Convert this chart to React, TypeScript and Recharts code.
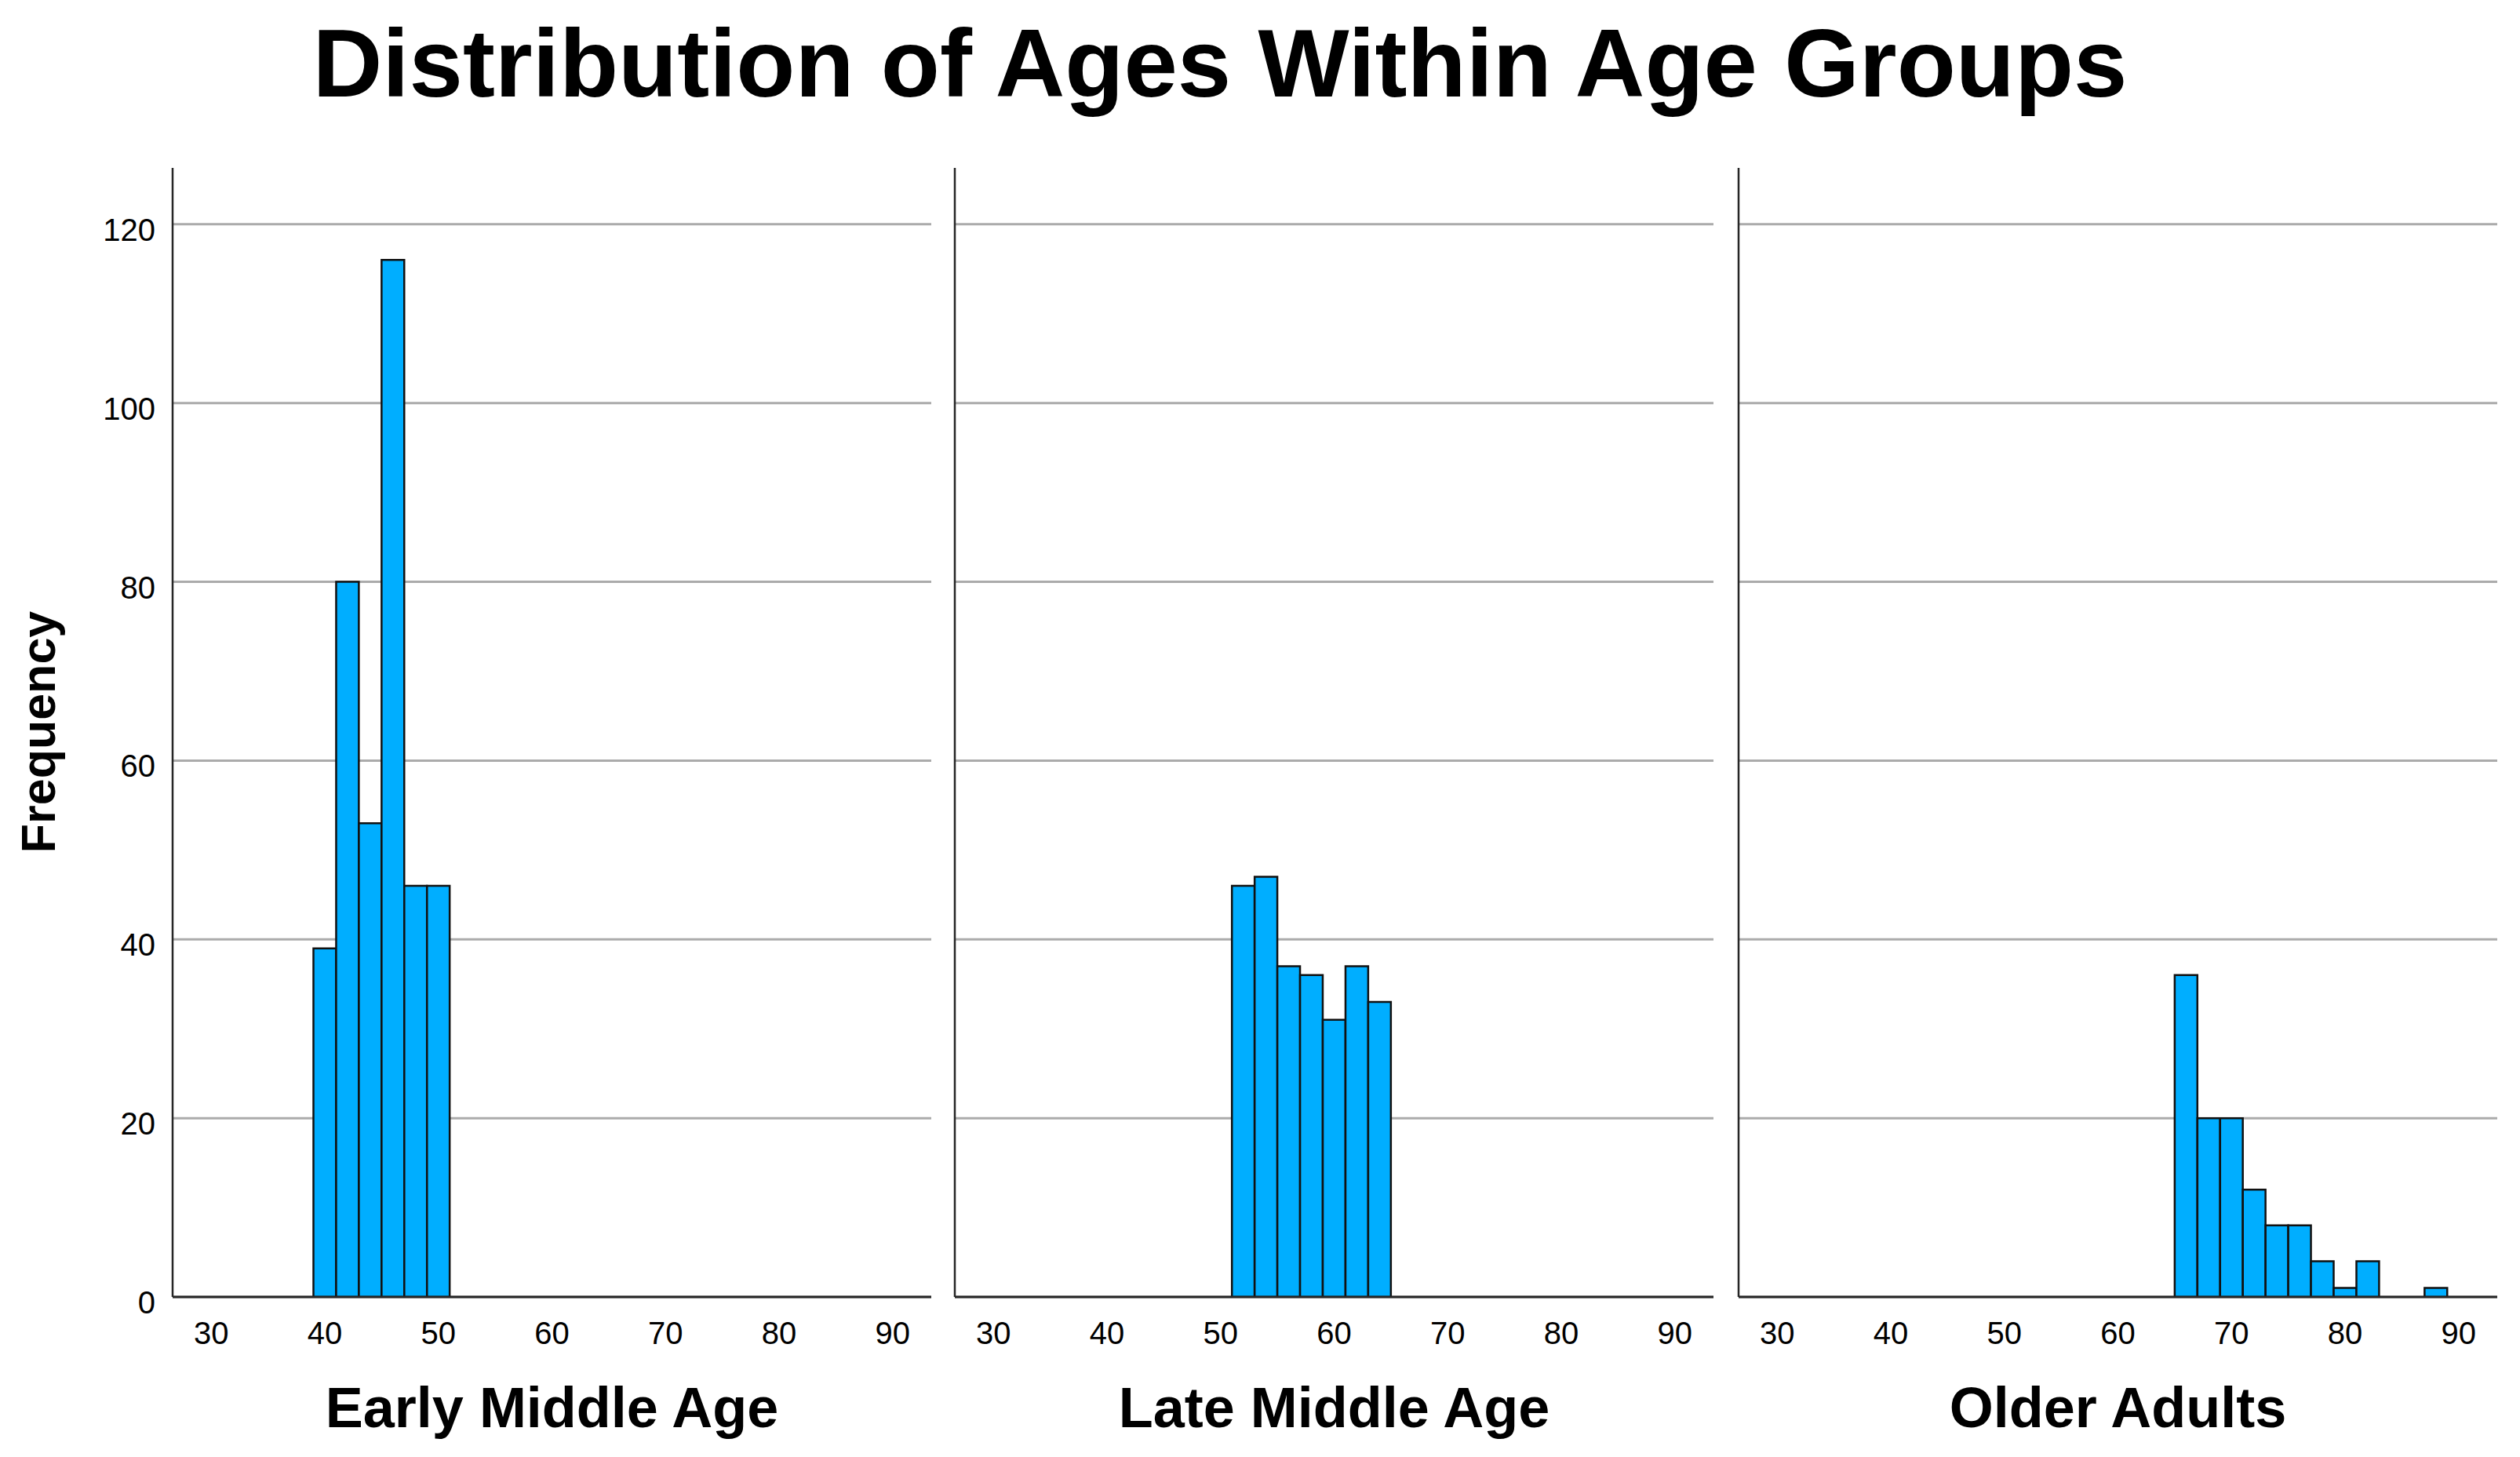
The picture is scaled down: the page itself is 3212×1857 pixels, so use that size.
import React from 'react';
import { BarChart, Bar, XAxis, YAxis, CartesianGrid } from 'recharts';

// ---- data ----
const panelNames = ['Early Middle Age', 'Late Middle Age', 'Older Adults'];
const bins1 = [40, 42, 44, 46, 48, 50];
const counts1 = [39, 80, 53, 116, 46, 46];
const bins2 = [52, 54, 56, 58, 60, 62, 64];
const counts2 = [46, 47, 37, 36, 31, 37, 33];
const bins3 = [66, 68, 70, 72, 74, 76, 78, 80, 82, 84, 86, 88];
const counts3 = [36, 20, 20, 12, 8, 8, 4, 1, 4, 0, 0, 1];
const xTicks = [30, 40, 50, 60, 70, 80, 90];
const yTicks = [0, 20, 40, 60, 80, 100, 120];
const xDomain: [number, number] = [26.6, 93.4];
const yDomain: [number, number] = [0, 126.3];
const titleText = 'Distribution of Ages Within Age Groups';
const yLabelText = 'Frequency';

const FONT = '"Liberation Sans", Arial, Helvetica, sans-serif';
const W = 3212;
const H = 1857;
const PLOT_TOP = 214;
const PLOT_BOTTOM = 1653;
const PLOT_W = 967;
const plotLefts = [220, 1217, 2216];
const LEFT_PAD = 220;
const RIGHT_PAD = 20;
const Y_AXIS_W = 40;
const X_AXIS_H = 40;

const toRows = (bins: number[], counts: number[]) =>
  bins.map((b, i) => ({ bin: b, count: counts[i] }));

const panels = [toRows(bins1, counts1), toRows(bins2, counts2), toRows(bins3, counts3)];

const XTick = (props: any) => {
  const { x, y, payload } = props;
  return (
    <text x={x} y={y + 60} textAnchor="middle" fontFamily={FONT} fontSize={40} fill="#000">
      {payload.value}
    </text>
  );
};

const YTick = (props: any) => {
  const { x, y, payload } = props;
  return (
    <text x={x - 22} y={y + 21} textAnchor="end" fontFamily={FONT} fontSize={40} fill="#000">
      {payload.value}
    </text>
  );
};

const NoTick = () => null;

const Panel = ({ rows, index }: { rows: any[]; index: number }) => {
  const chartW = LEFT_PAD + PLOT_W + RIGHT_PAD;
  return (
    <div style={{ position: 'absolute', left: plotLefts[index] - LEFT_PAD, top: 0 }}>
      <BarChart
        width={chartW}
        height={H}
        data={rows}
        margin={{
          top: PLOT_TOP,
          left: LEFT_PAD - Y_AXIS_W,
          right: RIGHT_PAD,
          bottom: H - PLOT_BOTTOM - X_AXIS_H,
        }}
      >
        <CartesianGrid vertical={false} stroke="#ababab" strokeWidth={3} syncWithTicks />
        <XAxis
          dataKey="bin"
          type="number"
          domain={xDomain}
          allowDataOverflow
          ticks={xTicks}
          interval={0}
          tickLine={false}
          tickSize={0}
          tickMargin={0}
          height={X_AXIS_H}
          axisLine={{ stroke: '#262626', strokeWidth: 3 }}
          tick={XTick}
        />
        <YAxis
          type="number"
          domain={yDomain}
          allowDataOverflow
          ticks={yTicks}
          interval={0}
          tickLine={false}
          tickSize={0}
          tickMargin={0}
          width={Y_AXIS_W}
          axisLine={{ stroke: '#262626', strokeWidth: 2.5 }}
          tick={index === 0 ? YTick : NoTick}
        />
        <Bar
          dataKey="count"
          fill="#00AEFF"
          stroke="#111111"
          strokeWidth={2.5}
          barSize={28.9}
          isAnimationActive={false}
        />
      </BarChart>
    </div>
  );
};

export default function App() {
  const labelCenters = plotLefts.map((l) => l + PLOT_W / 2);
  return (
    <div style={{ position: 'absolute', left: 0, top: 0, width: W, height: H, background: '#fff', overflow: 'hidden' }}>
      {panels.map((rows, i) => (
        <Panel key={i} rows={rows} index={i} />
      ))}
      <svg
        width={W}
        height={H}
        style={{ position: 'absolute', left: 0, top: 0, pointerEvents: 'none' }}
      >
        <text x={1555} y={123} textAnchor="middle" fontFamily={FONT} fontWeight="bold" fontSize={123} fill="#000">
          {titleText}
        </text>
        <text
          transform="translate(70,933) rotate(-90)"
          textAnchor="middle"
          fontFamily={FONT}
          fontWeight="bold"
          fontSize={61}
          fill="#000"
        >
          {yLabelText}
        </text>
        {panelNames.map((n, i) => (
          <text
            key={n}
            x={labelCenters[i]}
            y={1819}
            textAnchor="middle"
            fontFamily={FONT}
            fontWeight="bold"
            fontSize={72}
            fill="#000"
          >
            {n}
          </text>
        ))}
      </svg>
    </div>
  );
}
